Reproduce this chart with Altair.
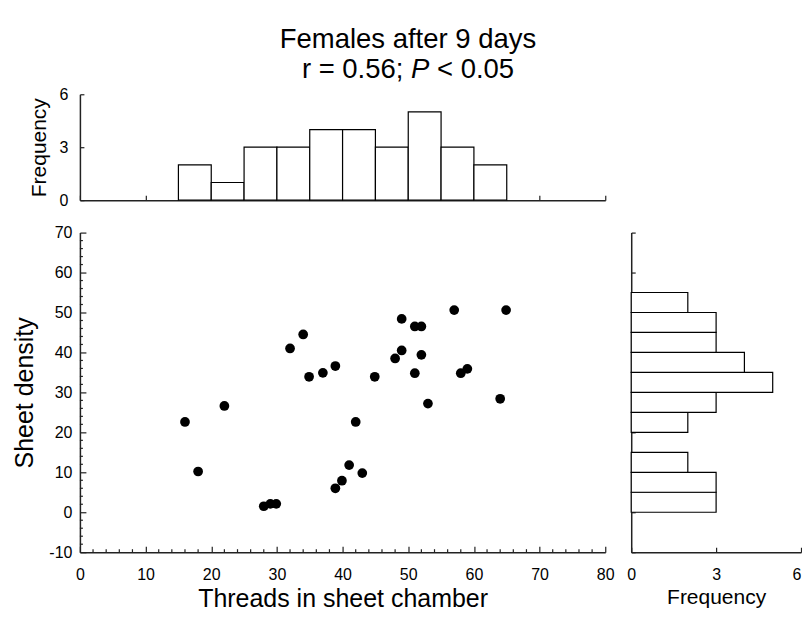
import altair as alt
import pandas as pd

# ---------------- data ----------------
threads = [16, 18, 22, 28, 29, 29.9, 32, 34, 34.9, 37, 38.9, 38.9, 39.9, 41, 42,
           43, 44.9, 48, 49, 49, 51, 52, 51, 52, 53, 57, 58, 59, 64, 64.9]
density = [22.6, 10.2, 26.6, 1.5, 2.1, 2.1, 41.0, 44.5, 33.9, 34.9, 36.6, 6.0, 7.9, 11.8, 22.6,
           9.8, 33.9, 38.5, 40.5, 48.4, 46.5, 46.5, 34.8, 39.4, 27.2, 50.6, 34.8, 35.9, 28.4, 50.6]

hist_x_start = [15, 20, 25, 30, 35, 40, 45, 50, 55, 60]
hist_x_count = [2, 1, 3, 3, 4, 4, 3, 5, 3, 2]
hist_y_start = [0, 5, 10, 15, 20, 25, 30, 35, 40, 45, 50]
hist_y_count = [3, 3, 2, 0, 2, 3, 5, 4, 3, 3, 2]
bin_width = 5

x_major = [0, 10, 20, 30, 40, 50, 60, 70, 80]
x_minor = [v for v in range(0, 81, 2) if v % 10 != 0]
y_major = [-10, 0, 10, 20, 30, 40, 50, 60, 70]
y_minor = [v for v in range(-10, 71, 2) if v % 10 != 0]
freq_ticks = [0, 3, 6]

title_line1 = "Females after 9 days"
title_r = "r = 0.56;"
title_p = "P"
title_tail = "< 0.05"
x_title = "Threads in sheet chamber"
y_title = "Sheet density"
freq_title = "Frequency"

# ---------------- style ----------------
FONT = "Liberation Sans"
W, H, HT, WR = 526, 320, 106, 170
LBL = 16
AXC = "#222222"
TF = 27.5

scat_df = pd.DataFrame({"threads": threads, "density": density})
top_df = pd.DataFrame({"start": hist_x_start,
                       "end": [s + bin_width for s in hist_x_start],
                       "count": hist_x_count})
right_df = pd.DataFrame({"start": hist_y_start,
                         "end": [s + bin_width for s in hist_y_start],
                         "count": hist_y_count})
right_df = right_df[right_df["count"] > 0]

sx = alt.Scale(domain=[0, 80], nice=False, zero=False)
sy = alt.Scale(domain=[-10, 70], nice=False, zero=False)
sf = alt.Scale(domain=[0, 6], nice=False)

common = dict(domainColor=AXC, domainWidth=1.5, tickColor=AXC, tickWidth=1.2,
              grid=False, labelColor="black", titleColor="black", labelFont=FONT,
              titleFont=FONT, titleFontWeight="normal", labelFontSize=LBL)

hyphen = "datum.value < 0 ? '-' + format(-datum.value, 'd') : datum.label"

ax_sx = alt.Axis(values=x_major, tickSize={"expr": "-6"}, labelPadding=20, labelFlush=False,
                 title=x_title, titleFontSize=25, titlePadding=4, **common)
ax_sy = alt.Axis(values=y_major, tickSize={"expr": "-6"}, labelPadding=14, labelExpr=hyphen,
                 title=y_title, titleFontSize=25, titlePadding=11.5, **common)
ax_tx = alt.Axis(values=x_major, tickSize={"expr": "-5"}, labels=False, title=None, **common)
ax_ty = alt.Axis(values=freq_ticks, tickSize={"expr": "-4"}, labelPadding=16,
                 title=freq_title, titleFontSize=21, titlePadding=10, **common)
ax_rx = alt.Axis(values=freq_ticks, tickSize={"expr": "-5"}, labelPadding=19, labelFlush=False,
                 labelAlign={"expr": "datum.value >= 6 ? 'right' : 'center'"},
                 title=freq_title, titleFontSize=21, titlePadding=4, **common)
ax_ry = alt.Axis(values=y_major, tickSize={"expr": "-4"}, labels=False, title=None, **common)

# ---------------- top histogram + title ----------------
top_bars = alt.Chart(top_df).mark_rect(fill="white", stroke="black", strokeWidth=1.2).encode(
    x=alt.X("start:Q", scale=sx, axis=ax_tx),
    x2="end:Q",
    y=alt.Y("count:Q", scale=sf, axis=ax_ty),
    y2=alt.datum(0),
)

CX = 328.5
def ttext(txt, x, y, align, italic=False):
    return alt.Chart(pd.DataFrame({"t": [txt]})).mark_text(
        font=FONT, fontSize=TF, align=align, baseline="alphabetic", color="black",
        fontStyle="italic" if italic else "normal",
    ).encode(text="t:N", x=alt.value(x), y=alt.value(y))

start2 = CX - 3.864 * TF
xp = start2 + 3.975 * TF
t1 = ttext(title_line1, CX, -46, "center")
t2 = ttext(title_r, xp - 0.278 * TF, -16, "right")
t3 = ttext(title_p, xp, -16, "left", italic=True)
t4 = ttext(title_tail, xp + 0.945 * TF, -16, "left")

top = alt.layer(top_bars, t1, t2, t3, t4).properties(width=W, height=HT)

empty = alt.Chart(pd.DataFrame({"a": [0]})).mark_point(opacity=0).properties(width=WR, height=HT)

# ---------------- scatter ----------------
minor_x = alt.Chart(pd.DataFrame({"v": x_minor})).mark_rule(color=AXC, strokeWidth=1.2).encode(
    x=alt.X("v:Q", scale=sx, axis=ax_sx), y=alt.value(H), y2=alt.value(H - 3))
minor_y = alt.Chart(pd.DataFrame({"v": y_minor})).mark_rule(color=AXC, strokeWidth=1.2).encode(
    y=alt.Y("v:Q", scale=sy, axis=ax_sy), x=alt.value(0), x2=alt.value(3))
pts = alt.Chart(scat_df).mark_circle(size=95, color="black", opacity=1).encode(
    x=alt.X("threads:Q", scale=sx, axis=ax_sx),
    y=alt.Y("density:Q", scale=sy, axis=ax_sy),
)
scatter = alt.layer(minor_x, minor_y, pts).properties(width=W, height=H)

# ---------------- right histogram ----------------
right = alt.Chart(right_df).mark_rect(fill="white", stroke="black", strokeWidth=1.2).encode(
    y=alt.Y("start:Q", scale=sy, axis=ax_ry),
    y2="end:Q",
    x=alt.X("count:Q", scale=sf, axis=ax_rx),
    x2=alt.datum(0),
).properties(width=WR, height=H)

chart = alt.concat(top, empty, scatter, right, columns=2, align="each",
                   spacing={"row": 16.5, "column": 12}).properties(
    padding={"left": 4, "top": 18, "right": 0, "bottom": -1}
).configure(font=FONT).configure_view(stroke="transparent", strokeWidth=0)

chart.save("out.html", embed_options={"renderer": "svg", "actions": False})
